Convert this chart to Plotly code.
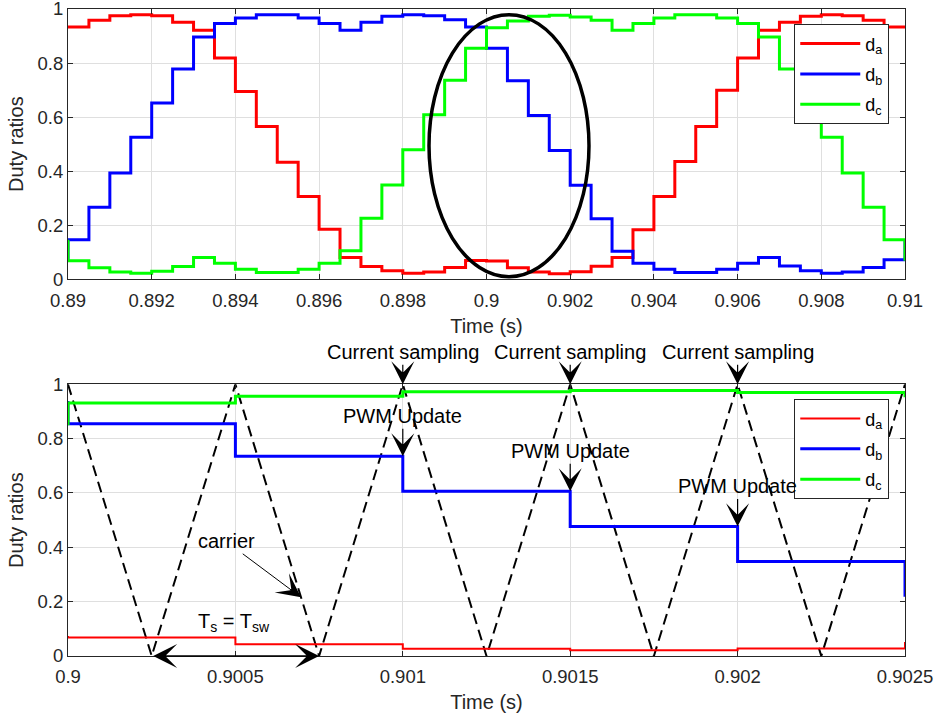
import plotly.graph_objects as go

# Switching period (s) and the start of the displayed window
TS = 0.0005
T_START = 0.89

# Per-period duty ratios of the three phase legs (one value per switching period)
d_a = [0.933, 0.958, 0.975, 0.979, 0.975, 0.951, 0.921, 0.819, 0.695, 0.565,
       0.433, 0.306, 0.185, 0.081, 0.047, 0.032, 0.022, 0.027, 0.044, 0.070,
       0.068, 0.043, 0.027, 0.021, 0.028, 0.048, 0.081, 0.183, 0.306, 0.436,
       0.565, 0.699, 0.819, 0.921, 0.951, 0.973, 0.979, 0.975, 0.958, 0.933]
d_b = [0.146, 0.267, 0.393, 0.526, 0.652, 0.778, 0.896, 0.946, 0.967, 0.979,
       0.979, 0.967, 0.946, 0.921, 0.951, 0.973, 0.979, 0.975, 0.960, 0.933,
       0.855, 0.735, 0.606, 0.477, 0.348, 0.224, 0.104, 0.059, 0.037, 0.025,
       0.025, 0.037, 0.059, 0.081, 0.049, 0.032, 0.022, 0.027, 0.044, 0.072]
d_c = [0.069, 0.043, 0.027, 0.022, 0.030, 0.047, 0.081, 0.059, 0.037, 0.025,
       0.025, 0.037, 0.059, 0.106, 0.226, 0.349, 0.479, 0.609, 0.736, 0.855,
       0.931, 0.956, 0.973, 0.977, 0.970, 0.958, 0.921, 0.946, 0.967, 0.979,
       0.979, 0.967, 0.946, 0.896, 0.778, 0.652, 0.526, 0.393, 0.267, 0.146]

# Triangular PWM carrier (vertices)
carrier_t = [0.9, 0.90025, 0.9005, 0.90075, 0.901, 0.90125, 0.9015,
             0.90175, 0.902, 0.90225, 0.9025]
carrier_v = [1, 0, 1, 0, 1, 0, 1, 0, 1, 0, 1]

# Tick labels
top_xticks = [0.89, 0.892, 0.894, 0.896, 0.898, 0.9, 0.902, 0.904, 0.906, 0.908, 0.91]
top_xlabels = ["0.89", "0.892", "0.894", "0.896", "0.898", "0.9", "0.902",
               "0.904", "0.906", "0.908", "0.91"]
bot_xticks = [0.9, 0.9005, 0.901, 0.9015, 0.902, 0.9025]
bot_xlabels = ["0.9", "0.9005", "0.901", "0.9015", "0.902", "0.9025"]
yticks = [0, 0.2, 0.4, 0.6, 0.8, 1]
ylabels = ["0", "0.2", "0.4", "0.6", "0.8", "1"]

# Sample instants where the modulator loads new duty ratios (PWM updates)
update_times = [0.901, 0.9015, 0.902]

FONT = "Liberation Sans, Arial, Helvetica, sans-serif"
AX_COLOR = "#262626"
GRID = "#dfdfdf"

n = len(d_a)
times = [T_START + TS * k for k in range(n)]


def staircase(vals):
    # zero-order hold: previous period value at the left edge, next one at the right edge
    xs = [times[0]] + times + [T_START + TS * n]
    ys = [vals[-1]] + vals + [vals[0]]
    return xs, ys


fig = go.Figure()

series = [("d<sub>a</sub>", "a", d_a, "#ff0000"),
          ("d<sub>b</sub>", "b", d_b, "#0000ff"),
          ("d<sub>c</sub>", "c", d_c, "#00ff00")]

# Upper panel: one fundamental period
for name, key, vals, col in series:
    xs, ys = staircase(vals)
    fig.add_trace(go.Scatter(x=xs, y=ys, mode="lines", line=dict(color=col, width=3, shape="hv"),
                             name=name, legendgroup="top_" + key,
                             xaxis="x", yaxis="y", legend="legend"))

# Lower panel: zoom on five switching periods with the carrier
fig.add_trace(go.Scatter(x=carrier_t, y=carrier_v, mode="lines",
                         line=dict(color="black", width=2, dash="11px,6px"),
                         showlegend=False, xaxis="x2", yaxis="y2"))
for name, key, vals, col in series:
    xs, ys = staircase(vals)
    w = 2 if key == "a" else 3
    fig.add_trace(go.Scatter(x=xs, y=ys, mode="lines", line=dict(color=col, width=w, shape="hv"),
                             name=name, legendgroup="bot_" + key,
                             xaxis="x2", yaxis="y2", legend="legend2"))

axis_common = dict(showline=True, mirror="ticks", linecolor=AX_COLOR, linewidth=1,
                   ticks="inside", ticklen=5, tickcolor=AX_COLOR, showgrid=True,
                   gridcolor=GRID, gridwidth=1, zeroline=False, automargin=False,
                   ticklabeloverflow="allow",
                   tickfont=dict(family=FONT, size=18.5, color=AX_COLOR))
title_font = dict(family=FONT, size=20, color=AX_COLOR)

legend_common = dict(xanchor="left", yanchor="top", bgcolor="white",
                     bordercolor=AX_COLOR, borderwidth=1, itemwidth=60,
                     tracegroupgap=4, groupclick="toggleitem",
                     font=dict(family=FONT, size=18, color="black"))

annotations = []
for t in update_times:
    annotations.append(dict(x=t, y=1, xref="x2", yref="y2", text="Current sampling",
                            showarrow=True, ax=0, ay=-32, arrowhead=3, arrowsize=3.2,
                            arrowwidth=1.2, arrowcolor="black",
                            font=dict(family=FONT, size=20, color="black")))
for t in update_times:
    idx = round((t - T_START) / TS) - 1
    annotations.append(dict(x=t, y=d_b[idx], xref="x2", yref="y2", text="PWM Update",
                            showarrow=True, ax=0, ay=-40, arrowhead=3, arrowsize=3.2,
                            arrowwidth=1.2, arrowcolor="black",
                            font=dict(family=FONT, size=20, color="black")))
annotations.append(dict(x=0.900696, y=0.216, xref="x2", yref="y2", text="carrier",
                        showarrow=True, ax=-75, ay=-56, arrowhead=3, arrowsize=4,
                        arrowwidth=1, arrowcolor="black",
                        font=dict(family=FONT, size=20, color="black")))
annotations.append(dict(x=0.900495, y=0.125, xref="x2", yref="y2",
                        text="T<sub>s</sub> = T<sub>sw</sub>", showarrow=False,
                        font=dict(family=FONT, size=20, color="black")))
annotations.append(dict(x=carrier_t[3], y=0, xref="x2", yref="y2",
                        ax=carrier_t[1], ay=0, axref="x2", ayref="y2", text="",
                        showarrow=True, arrowside="end+start", arrowhead=3,
                        startarrowhead=3, arrowsize=2.5, startarrowsize=2.5,
                        arrowwidth=1.6, arrowcolor="black"))

fig.update_layout(
    width=936, height=719, autosize=False,
    margin=dict(l=68, r=31, t=9, b=63),
    plot_bgcolor="white", paper_bgcolor="white",
    xaxis=dict(axis_common, domain=[0, 1], anchor="y", range=[0.89, 0.91],
               tickvals=top_xticks, ticktext=top_xlabels, ticklabelstandoff=4,
               title=dict(text="Time (s)", font=title_font, standoff=9)),
    yaxis=dict(axis_common, domain=[0.5822, 1.0], anchor="x", range=[0, 1],
               tickvals=yticks, ticktext=ylabels,
               title=dict(text="Duty ratios", font=title_font, standoff=8)),
    xaxis2=dict(axis_common, domain=[0, 1], anchor="y2", range=[0.9, 0.9025],
                tickvals=bot_xticks, ticktext=bot_xlabels, ticklabelstandoff=4,
                title=dict(text="Time (s)", font=title_font, standoff=8)),
    yaxis2=dict(axis_common, domain=[0, 0.4199], anchor="x2", range=[0, 1],
                tickvals=yticks, ticktext=ylabels,
                title=dict(text="Duty ratios", font=title_font, standoff=8)),
    legend=dict(legend_common, x=0.8677, y=0.9763),
    legend2=dict(legend_common, x=0.8677, y=0.3968),
    shapes=[dict(type="circle", xref="x", yref="y", x0=0.898626, x1=0.902449,
                 y0=0.0096, y1=0.979, line=dict(color="black", width=3.5))],
    annotations=annotations,
)

fig.write_html("out.html")
